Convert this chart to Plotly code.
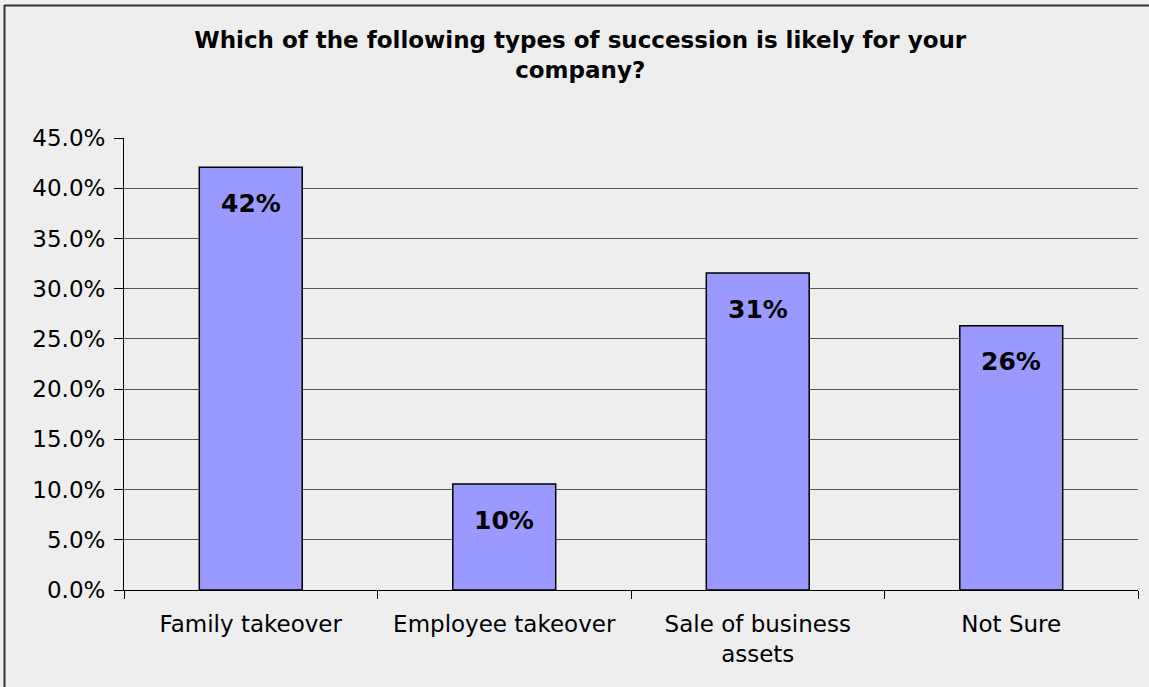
import plotly.graph_objects as go

categories = ["Family takeover", "Employee takeover", "Sale of business<br>assets", "Not Sure"]
values = [0.421, 0.1055, 0.3155, 0.263]
labels = ["42%", "10%", "31%", "26%"]
title_text = "Which of the following types of succession is likely for your<br>company?"

BG = "#EEEEEE"
FONT = "DejaVu Sans, Verdana, sans-serif"

fig = go.Figure()
fig.add_trace(go.Bar(
    x=categories, y=values, width=0.406,
    marker=dict(color="#9999FF", line=dict(color="#000000", width=1.5)),
    hoverinfo="skip",
))

for c, v, t in zip(categories, values, labels):
    fig.add_annotation(x=c, y=v, text="<b>%s</b>" % t, showarrow=False,
                       yshift=-36, yanchor="middle",
                       font=dict(family=FONT, size=25, color="#000000"))

fig.update_layout(
    width=1149, height=687,
    paper_bgcolor=BG, plot_bgcolor=BG,
    margin=dict(l=124, r=11, t=138, b=97),
    showlegend=False,
    title=dict(text="<b>%s</b>" % title_text, x=0.505, xanchor="center",
               y=0.93, yanchor="top",
               font=dict(family=FONT, size=23, color="#000000")),
    font=dict(family=FONT, color="#000000"),
    xaxis=dict(showline=True, linecolor="#000000", linewidth=1,
               ticks="outside", ticklen=8, tickcolor="#000000", tickson="boundaries",
               tickfont=dict(size=23, family=FONT, color="#000000"),
               showgrid=False, fixedrange=True, ticklabelstandoff=13),
    yaxis=dict(range=[0, 0.45], dtick=0.05, tickformat=".1%",
               showline=True, linecolor="#000000", linewidth=1,
               ticks="outside", ticklen=9, tickcolor="#000000",
               tickfont=dict(size=23, family=FONT, color="#000000"),
               showgrid=True, gridcolor="#555555", gridwidth=1,
               zeroline=False, fixedrange=True, ticklabelstandoff=4),
    shapes=[
        dict(type="line", xref="paper", yref="paper",
             x0=(4 - 124) / 1014, x1=(1160 - 124) / 1014,
             y0=(590 - 5.5) / 452, y1=(590 - 5.5) / 452,
             line=dict(color="#333333", width=2)),
        dict(type="line", xref="paper", yref="paper",
             x0=(4.5 - 124) / 1014, x1=(4.5 - 124) / 1014,
             y0=(590 - 5) / 452, y1=(590 - 700) / 452,
             line=dict(color="#333333", width=2)),
    ],
)

fig.write_html("out.html", config={"displayModeBar": False},
               post_script="document.body.style.margin='0';document.body.style.background='#EEEEEE';")
